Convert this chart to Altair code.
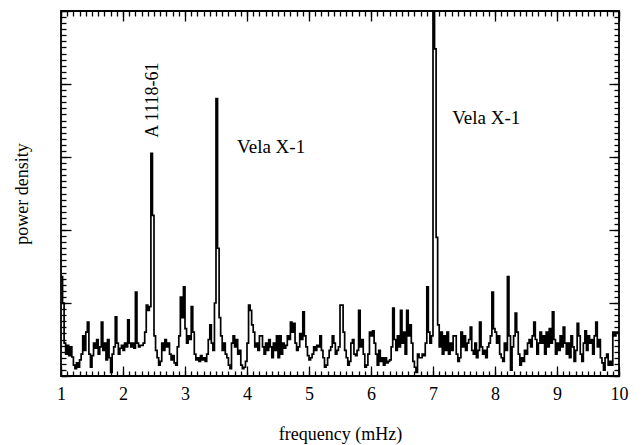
import altair as alt
import pandas as pd

# frequency bins (mHz): start 1.0, width 0.025
F_START = 1.0
BIN_WIDTH = 0.025

# power density per bin, one list per 1 mHz
p_1 = [1.36, 1.00, 0.45, 0.30, 0.42, 0.28, 0.40, 0.26, 0.15, 0.10,
       0.18, 0.12, 0.22, 0.30, 0.55, 0.35, 0.60, 0.74, 0.30, 0.12,
       0.28, 0.45, 0.38, 0.50, 0.30, 0.40, 0.74, 0.35, 0.45, 0.22,
       0.50, 0.25, 0.05, 0.30, 0.40, 0.81, 0.45, 0.30, 0.38, 0.42]
p_2 = [0.35, 0.45, 0.40, 0.77, 0.45, 0.40, 0.45, 0.38, 1.15, 0.45,
       0.40, 0.42, 0.42, 0.45, 0.60, 0.97, 0.90, 0.95, 3.05, 2.20,
       0.55, 0.35, 0.25, 0.15, 0.20, 0.45, 0.35, 0.50, 0.40, 0.45,
       0.30, 0.22, 0.28, 0.18, 0.15, 0.40, 0.55, 1.08, 0.80, 1.22]
p_3 = [0.65, 0.45, 0.55, 0.50, 0.95, 0.60, 0.30, 0.22, 0.25, 0.20,
       0.28, 0.22, 0.25, 0.20, 0.30, 0.50, 0.70, 0.45, 0.35, 1.00,
       3.80, 1.75, 0.80, 0.55, 0.35, 0.45, 0.30, 0.25, 0.15, 0.10,
       0.45, 0.55, 0.40, 0.50, 0.30, 0.35, 0.15, 0.10, 0.12, 0.20]
p_4 = [0.45, 0.97, 0.90, 0.70, 0.60, 0.40, 0.45, 0.35, 0.55, 0.55,
       0.40, 0.30, 0.45, 0.35, 0.50, 0.40, 0.25, 0.45, 0.35, 0.55,
       0.25, 0.55, 0.30, 0.45, 0.38, 0.42, 0.55, 0.50, 0.74, 0.60,
       0.72, 0.45, 0.35, 0.40, 0.58, 0.50, 0.88, 0.55, 0.40, 0.28]
p_5 = [0.22, 0.25, 0.30, 0.40, 0.35, 0.42, 0.40, 0.55, 0.35, 0.25,
       0.12, 0.15, 0.25, 0.35, 0.40, 0.55, 0.45, 0.30, 0.35, 0.40,
       0.97, 0.97, 0.60, 0.35, 0.25, 0.15, 0.20, 0.45, 0.50, 0.30,
       0.28, 0.35, 0.90, 0.40, 0.50, 0.30, 0.12, 0.15, 0.30, 0.60]
p_6 = [0.55, 0.62, 0.45, 0.30, 0.15, 0.35, 0.20, 0.25, 0.15, 0.25,
       0.18, 0.20, 0.22, 0.40, 0.93, 0.50, 0.35, 0.55, 0.40, 0.90,
       0.45, 0.60, 0.30, 0.90, 0.55, 0.70, 0.45, 0.20, 0.12, 0.05,
       0.30, 0.25, 0.25, 0.30, 0.28, 0.45, 1.22, 0.60, 0.45, 0.55]
p_7 = [6.00, 4.48, 1.90, 0.70, 0.40, 0.60, 0.30, 0.55, 0.35, 0.60,
       0.30, 0.45, 0.35, 0.55, 0.55, 0.30, 0.20, 0.25, 0.60, 0.40,
       0.55, 0.35, 0.45, 0.50, 0.67, 0.35, 0.30, 0.45, 0.25, 0.35,
       0.74, 0.40, 0.30, 0.35, 0.25, 0.40, 0.45, 0.55, 1.15, 0.65]
p_8 = [0.60, 0.45, 0.55, 0.30, 0.25, 0.20, 0.45, 0.35, 1.36, 0.55,
       0.08, 0.40, 0.55, 0.86, 0.60, 0.30, 0.15, 0.25, 0.20, 0.35,
       0.30, 0.45, 0.50, 0.40, 0.55, 0.74, 0.50, 0.30, 0.45, 0.60,
       0.45, 0.55, 0.30, 0.60, 0.40, 0.65, 0.45, 0.88, 0.50, 0.30]
p_9 = [0.45, 0.35, 0.55, 0.40, 0.67, 0.45, 0.30, 0.45, 0.25, 0.55,
       0.40, 0.20, 0.35, 0.72, 0.55, 0.30, 0.20, 0.45, 0.62, 0.35,
       0.55, 0.45, 0.50, 0.30, 0.55, 0.74, 0.40, 0.50, 0.25, 0.18,
       0.08, 0.25, 0.30, 0.15, 0.20, 0.15, 0.60, 0.55, 0.60, 0.60]

x_ticks = [1, 2, 3, 4, 5, 6, 7, 8, 9, 10]
y_ticks = [0, 1, 2, 3, 4, 5]

labels = ["A 1118-61", "Vela X-1", "Vela X-1"]
label_f = [2.49, 3.84, 7.31]
label_p = [3.78, 3.14, 3.53]
label_angle = [270, 0, 0]

power = p_1 + p_2 + p_3 + p_4 + p_5 + p_6 + p_7 + p_8 + p_9
freq = [round(F_START + BIN_WIDTH * i, 4) for i in range(len(power))]
# closing edge of last bin for the step line
freq.append(10.0)
power.append(power[-1])
df = pd.DataFrame({"f": freq, "p": power})

x_minor = [round(1 + 0.1 * k, 2) for k in range(91)]
y_minor = [k / 12 for k in range(61)]

FONT = "Liberation Serif"
W, H = 558, 365
xs = alt.Scale(domain=[1, 10], nice=False, zero=False)
ys = alt.Scale(domain=[0, 5], nice=False, zero=False)

def tick_axis(orient, values, size):
    return alt.Axis(orient=orient, values=values, tickSize=size, offset=-size,
                    labels=False, domain=False, grid=False, ticks=True,
                    tickColor="black", tickWidth=1.3)

line = alt.Chart(df).mark_line(interpolate="step-after", color="black",
                               strokeWidth=1.7, clip=True).encode(
    x=alt.X("f:Q", scale=xs, title="frequency (mHz)",
            axis=alt.Axis(orient="bottom", values=x_ticks, format="d", ticks=False,
                          domain=False, grid=False, labelPadding=9, labelFlush=False,
                          labelFont=FONT, labelFontSize=18, labelColor="black",
                          titleFont=FONT, titleFontSize=18, titleFontWeight="normal",
                          titleColor="black", titlePadding=22)),
    y=alt.Y("p:Q", scale=ys, title="power density",
            axis=alt.Axis(orient="left", labels=False, ticks=False, domain=False,
                          grid=False, titleFont=FONT, titleFontSize=18,
                          titleFontWeight="normal", titleColor="black",
                          titlePadding=30)),
)

def ghost(xo, xv, xsz, yo, yv, ysz):
    return alt.Chart(df).mark_point(opacity=0).encode(
        x=alt.X("f:Q", scale=xs, title=None, axis=tick_axis(xo, xv, xsz)),
        y=alt.Y("p:Q", scale=ys, title=None, axis=tick_axis(yo, yv, ysz)),
    )

g1 = ghost("bottom", x_ticks, 10, "left", y_ticks, 10)
g2 = ghost("bottom", x_minor, 5, "left", y_minor, 5)
g3 = ghost("top", x_ticks, 10, "right", y_ticks, 10)
g4 = ghost("top", x_minor, 5, "right", y_minor, 5)

tdf = pd.DataFrame({"f": label_f, "p": label_p, "label": labels, "angle": label_angle})
txt_rot = alt.Chart(tdf).transform_filter("datum.angle == 270").mark_text(
    font=FONT, fontSize=18, angle=270, align="center", baseline="middle", color="black"
).encode(x=alt.X("f:Q", scale=xs, axis=None), y=alt.Y("p:Q", scale=ys, axis=None),
         text="label:N")
txt = alt.Chart(tdf).transform_filter("datum.angle == 0").mark_text(
    font=FONT, fontSize=19, align="left", baseline="middle", color="black"
).encode(x=alt.X("f:Q", scale=xs, axis=None), y=alt.Y("p:Q", scale=ys, axis=None),
         text="label:N")

chart = alt.layer(line, g1, g2, g3, g4, txt_rot, txt).resolve_axis(
    x="independent", y="independent"
).properties(
    width=W, height=H,
    padding={"left": 61, "top": 11, "right": 23, "bottom": 69},
    autosize=alt.AutoSizeParams(type="none"),
    background="white",
).configure_view(stroke="black", strokeWidth=1.8)

chart.save("out.html", embed_options={"renderer": "svg", "actions": False})
